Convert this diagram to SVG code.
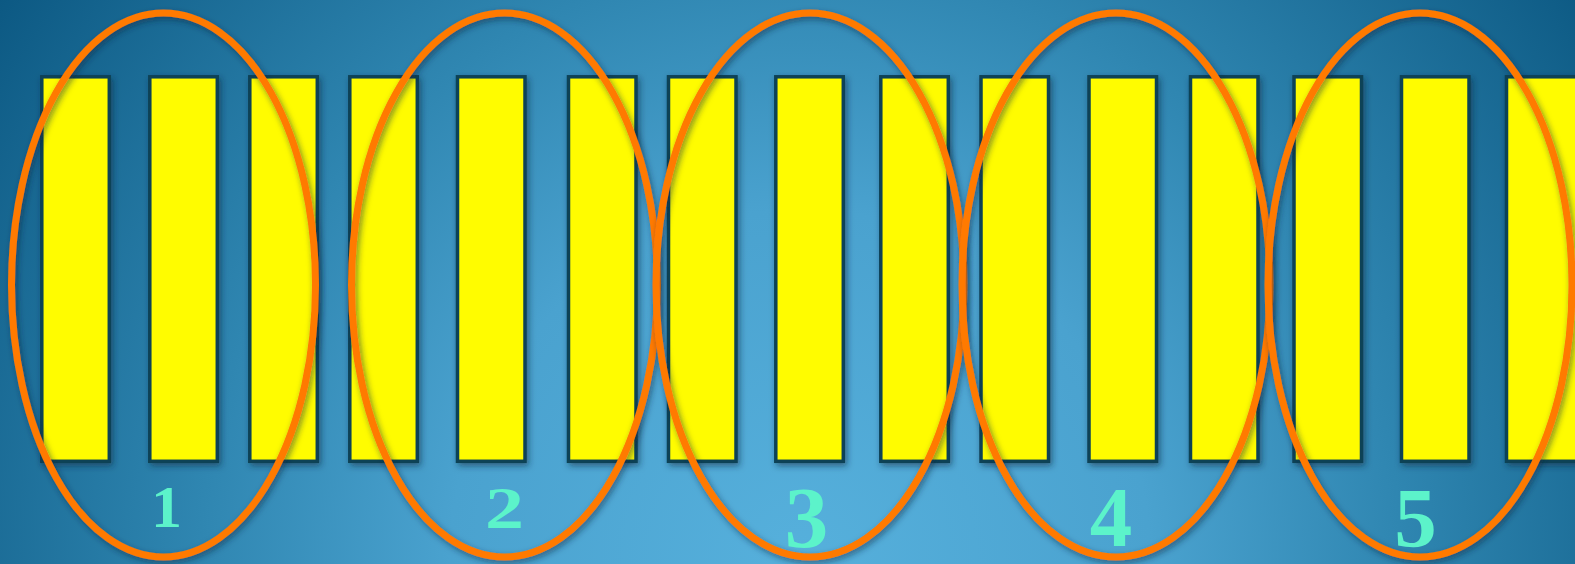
<svg xmlns="http://www.w3.org/2000/svg" width="1575" height="564" viewBox="0 0 1575 564">
<defs>
<radialGradient id="bg" gradientUnits="userSpaceOnUse" cx="800" cy="560" r="1000">
<stop offset="0" stop-color="#56b0dc"/>
<stop offset="0.35" stop-color="#4aa2cf"/>
<stop offset="0.6" stop-color="#2f86b1"/>
<stop offset="1" stop-color="#0a5680"/>
</radialGradient>
<filter id="sh" x="-20%" y="-10%" width="140%" height="120%">
<feDropShadow dx="2" dy="3" stdDeviation="3" flood-color="#0a2c40" flood-opacity="0.55"/>
</filter>
</defs>
<style>
.bar{fill:#fffc00;stroke:#0b4257;stroke-width:3.5;filter:url(#sh)}
.ring{fill:none;stroke:#ff7a00;stroke-width:7;filter:url(#sh)}
.num{font-family:"Liberation Serif","DejaVu Serif",serif;font-weight:bold;fill:#5cf3ca;text-anchor:middle}
</style>
<rect x="0" y="0" width="1575" height="564" fill="url(#bg)"/>
<g id="bars">
<rect class="bar" x="41.8" y="76.8" width="67.5" height="384.5"/>
<rect class="bar" x="149.8" y="76.8" width="67.5" height="384.5"/>
<rect class="bar" x="249.8" y="76.8" width="67.5" height="384.5"/>
<rect class="bar" x="349.8" y="76.8" width="67.5" height="384.5"/>
<rect class="bar" x="457.5" y="76.8" width="67.5" height="384.5"/>
<rect class="bar" x="568.5" y="76.8" width="67.5" height="384.5"/>
<rect class="bar" x="668.5" y="76.8" width="67.5" height="384.5"/>
<rect class="bar" x="775.8" y="76.8" width="67.5" height="384.5"/>
<rect class="bar" x="880.8" y="76.8" width="67.5" height="384.5"/>
<rect class="bar" x="981" y="76.8" width="67.5" height="384.5"/>
<rect class="bar" x="1089" y="76.8" width="67.5" height="384.5"/>
<rect class="bar" x="1190.5" y="76.8" width="67.5" height="384.5"/>
<rect class="bar" x="1294" y="76.8" width="67.5" height="384.5"/>
<rect class="bar" x="1401.5" y="76.8" width="67.5" height="384.5"/>
<rect class="bar" x="1506.5" y="76.8" width="80" height="384.5"/>
</g>
<g id="group1">
<ellipse class="ring" cx="163.5" cy="285" rx="152" ry="272"/>
<text class="num" x="166.5" y="527" font-size="60" textLength="31" lengthAdjust="spacingAndGlyphs">1</text>
</g>
<g id="group2">
<ellipse class="ring" cx="504.5" cy="285" rx="153" ry="272"/>
<text class="num" x="504.5" y="528" font-size="60" textLength="39" lengthAdjust="spacingAndGlyphs">2</text>
</g>
<g id="group3">
<ellipse class="ring" cx="810" cy="285" rx="154" ry="272"/>
<text class="num" x="806.5" y="547" font-size="87">3</text>
</g>
<g id="group4">
<ellipse class="ring" cx="1116" cy="285" rx="154" ry="272"/>
<text class="num" x="1111" y="546" font-size="85">4</text>
</g>
<g id="group5">
<ellipse class="ring" cx="1420" cy="285" rx="152" ry="272"/>
<text class="num" x="1415.5" y="546.5" font-size="85">5</text>
</g>
<g id="connectors"/>
</svg>
